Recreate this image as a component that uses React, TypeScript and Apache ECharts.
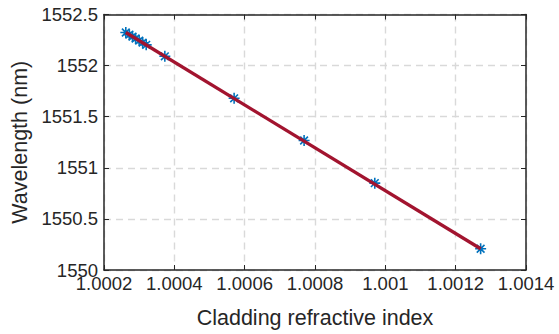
import React, { useEffect, useRef } from "react";
import * as echarts from "echarts";

const claddingIndex = [
  1.000262, 1.000272, 1.000281, 1.00029, 1.0003, 1.00031, 1.00032, 1.000373,
  1.00057, 1.000769, 1.00097, 1.001271,
];
const wavelength = [
  1552.324, 1552.303, 1552.284, 1552.265, 1552.245, 1552.224, 1552.203,
  1552.091, 1551.68, 1551.267, 1550.85, 1550.208,
];
const fitX = [1.000262, 1.001271];
const fitY = [1552.324, 1550.208];

const xName = "Cladding refractive index";
const yName = "Wavelength (nm)";

const fmt = (v: number) => String(parseFloat(v.toFixed(5)));

export default function App() {
  const ref = useRef<HTMLDivElement>(null);
  useEffect(() => {
    const chart = echarts.init(ref.current!, null, { renderer: "svg" });
    const font = "'Liberation Sans', Arial, Helvetica, sans-serif";
    const axisColor = "#262626";
    const gridLine = {
      show: true,
      lineStyle: { color: "#d9d9d9", type: [7, 5] as any, width: 1.4 },
    };
    chart.setOption({
      animation: false,
      textStyle: { fontFamily: font },
      grid: { left: 104, right: 33, top: 14.5, bottom: 61.7 },
      xAxis: [
        {
          type: "value",
          min: 1.0002,
          max: 1.0014,
          interval: 0.0002,
          name: xName,
          nameLocation: "middle",
          nameGap: 37,
          nameTextStyle: { fontSize: 21.5, color: axisColor, fontFamily: font },
          axisLine: { show: true, lineStyle: { color: axisColor, width: 1.5 } },
          axisTick: { show: true, inside: true, length: 5, lineStyle: { color: axisColor } },
          axisLabel: {
            color: axisColor,
            fontSize: 18.5,
            margin: 4,
            fontFamily: font,
            formatter: (v: number) => fmt(v),
          },
          splitLine: gridLine,
        },
        {
          type: "value",
          position: "top",
          min: 1.0002,
          max: 1.0014,
          interval: 0.0002,
          axisLine: { show: true, lineStyle: { color: axisColor, width: 1.5 } },
          axisTick: { show: true, inside: true, length: 5, lineStyle: { color: axisColor } },
          axisLabel: { show: false },
          splitLine: { show: false },
        },
      ],
      yAxis: [
        {
          type: "value",
          min: 1550,
          max: 1552.5,
          interval: 0.5,
          name: yName,
          nameLocation: "middle",
          nameGap: 66,
          nameTextStyle: { fontSize: 21.5, color: axisColor, fontFamily: font },
          axisLine: { show: true, lineStyle: { color: axisColor, width: 1.5 } },
          axisTick: { show: true, inside: true, length: 5, lineStyle: { color: axisColor } },
          axisLabel: {
            color: axisColor,
            fontSize: 18.5,
            margin: 6,
            fontFamily: font,
            formatter: (v: number) => fmt(v),
          },
          splitLine: gridLine,
        },
        {
          type: "value",
          position: "right",
          min: 1550,
          max: 1552.5,
          interval: 0.5,
          axisLine: { show: true, lineStyle: { color: axisColor, width: 1.5 } },
          axisTick: { show: true, inside: true, length: 5, lineStyle: { color: axisColor } },
          axisLabel: { show: false },
          splitLine: { show: false },
        },
      ],
      series: [
        {
          type: "scatter",
          data: claddingIndex.map((x, i) => [x, wavelength[i]]),
          symbol:
            "path://M5,0 L5,10 M0,5 L10,5 M1.5,1.5 L8.5,8.5 M1.5,8.5 L8.5,1.5",
          symbolSize: 11,
          itemStyle: { color: "none", borderColor: "#0072BD", borderWidth: 1.6, opacity: 1 },
          z: 2,
        },
        {
          type: "line",
          data: fitX.map((x, i) => [x, fitY[i]]),
          showSymbol: false,
          symbol: "none",
          lineStyle: { color: "#A2142F", width: 3.3 },
          z: 3,
        },
      ],
    });
    return () => chart.dispose();
  }, []);
  return (
    <div
      ref={ref}
      style={{ position: "fixed", left: 0, top: 0, width: 559, height: 334, background: "#fff" }}
    />
  );
}
